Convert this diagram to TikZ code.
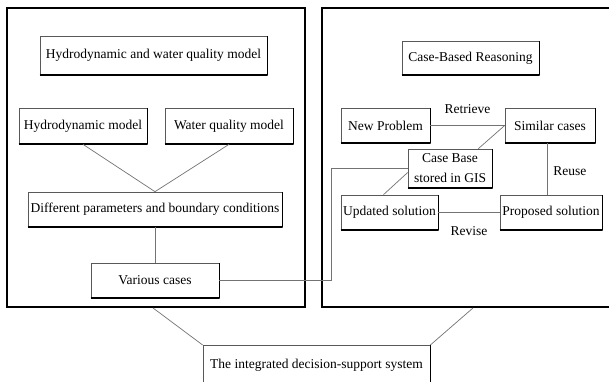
\documentclass[tikz,border=0pt]{standalone}
\usepackage{fontspec}
\setmainfont{Liberation Serif}
\usetikzlibrary{calc}
\tikzset{
  box/.style={draw=black!65, line width=0.7pt, rectangle, inner sep=0pt,
    font=\fontsize{13.5}{16}\selectfont, align=center,
    append after command={
      (\tikzlastnode.south west) edge[line width=1.8pt, black] (\tikzlastnode.south east)
      (\tikzlastnode.south east) edge[line width=1.0pt, black] (\tikzlastnode.north east)
    }},
  big/.style={draw=black, line width=1.9pt, rectangle, inner sep=0pt},
  conn/.style={draw=black!55, line width=0.7pt},
  lab/.style={font=\fontsize{13.5}{16}\selectfont, inner sep=0pt}
}
\begin{document}
\begin{tikzpicture}[x=1pt,y=-1pt]
\useasboundingbox (0,0) rectangle (609,381);
\clip (0,0) rectangle (609,381);
\fill[white] (0,0) rectangle (609,381);
% big frames
\node[big, minimum width=298pt, minimum height=299pt] (L) at (156,157.5) {};
\node[big, minimum width=298pt, minimum height=299pt] (R) at (471,157.5) {};
% left side
\node[box, minimum width=227pt, minimum height=39pt] (hwq) at (153.5,55.5) {Hydrodynamic and water quality model};
\node[box, minimum width=128pt, minimum height=36pt] (hm) at (83,126) {Hydrodynamic model};
\node[box, minimum width=128pt, minimum height=36pt] (wq) at (229,126) {Water quality model};
\node[box, minimum width=254pt, minimum height=35pt] (dp) at (155,209.5) {Different parameters and boundary conditions};
\node[box, minimum width=128pt, minimum height=35pt] (vc) at (155,280.5) {Various cases};
% right side
\node[box, minimum width=137pt, minimum height=34pt] (cbr) at (470.5,58) {Case-Based Reasoning};
\node[box, minimum width=89pt, minimum height=35pt] (np) at (385.5,125.5) {New Problem};
\node[box, minimum width=90pt, minimum height=35pt] (sc) at (550,125.5) {Similar cases};
\node[box, minimum width=84pt, minimum height=39pt, font=\fontsize{13.5}{20}\selectfont] (cb) at (450,168.5) {Case Base\\stored in GIS};
\node[box, minimum width=97pt, minimum height=35pt] (us) at (389.5,212.5) {Updated solution};
\node[box, minimum width=102pt, minimum height=35pt] (ps) at (551,212.5) {Proposed solution};
% bottom system box
\node[box, minimum width=227pt, minimum height=50pt, anchor=north] (ids) at (316.5,345) {};
\node[lab] (idst) at ($(ids.north)+(0,20)$) {The integrated decision-support system};
% connectors left
\draw[conn] (hm.south) -- (dp.north);
\draw[conn] (wq.south) -- (dp.north);
\draw[conn] (dp.south) -- (vc.north);
\coordinate (bend) at (331,280.5);
\draw[conn] (vc.east) -- (bend) |- (cb.west);
% connectors right
\draw[conn] (np.east) -- node[lab, above=12pt] (ret) {Retrieve} (sc.west);
\draw[conn] ($(cb.north east)+(-14,0)$) -- (sc.west);
\draw[conn] ($(cb.west)+(0,4)$) -- ($(us.north)+(-6,0)$);
\draw[conn] (us.east) -- node[lab, below=14pt] (rev) {Revise} (ps.west);
\draw[conn] ($(sc.south)+(-3,0)$) -- ($(sc.south |- ps.north)+(-3,0)$) node[lab, pos=0.55, right=6pt] (reu) {Reuse};
% to system
\draw[conn] ($(L.south)+(-3,0)$) -- (ids.north west);
\draw[conn] ($(R.south)+(2,0)$) -- (ids.north east);
\end{tikzpicture}
\end{document}
